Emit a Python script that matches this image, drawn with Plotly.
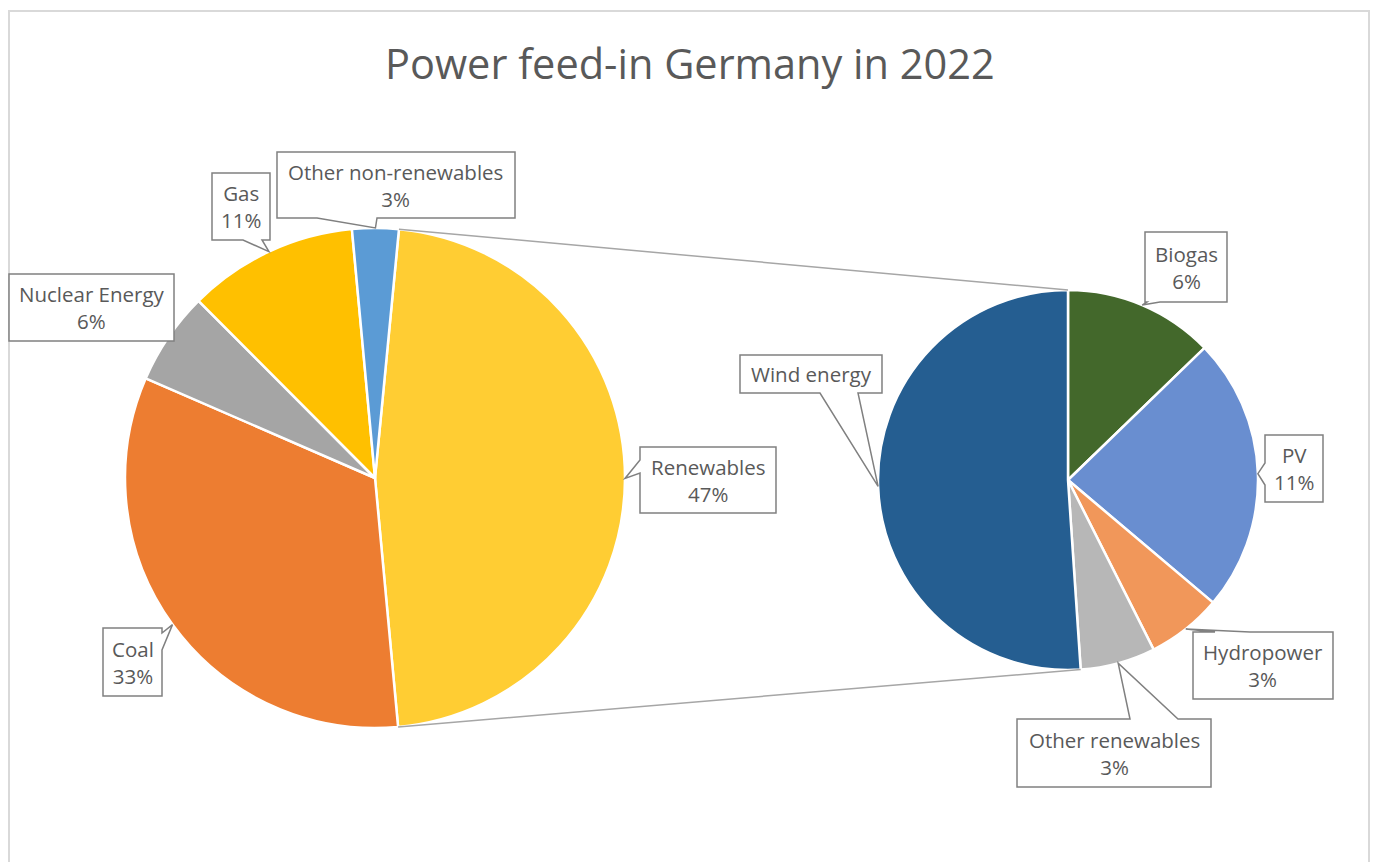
import math
import plotly.graph_objects as go

W, H = 1375, 862

# Power feed-in by source, percent of the total
main_labels = ["Renewables", "Coal", "Nuclear Energy", "Gas", "Other non-renewables"]
main_values = [47, 33, 6, 11, 3]
main_colors = ["#FFCD33", "#ED7D31", "#A5A5A5", "#FFC000", "#5B9BD5"]

# Split of the renewables share, percent of the total
sub_labels = ["Biogas", "PV", "Hydropower", "Other renewables", "Wind energy"]
sub_values = [6, 11, 3, 3, 24]
sub_colors = ["#43682B", "#698ED0", "#F1975A", "#B7B7B7", "#255E91"]
label_only = {"Wind energy"}

# Pie placement in pixels (centre, radius, start angle clockwise from 12 o'clock)
LEFT = dict(cx=375, cy=478, r=250, rotation=5.5)
RIGHT = dict(cx=1068, cy=480, r=190, rotation=0)

# Callout boxes (x0, y0, x1, y1) and the side/base span of their pointer
main_boxes = {
    "Renewables": ((640, 447, 776, 513), ("left", 460, 473)),
    "Coal": ((103, 628, 162, 696), ("right", 633, 650)),
    "Nuclear Energy": ((9, 274, 174, 341), None),
    "Gas": ((212, 173, 270, 240), ("bottom", 243, 262)),
    "Other non-renewables": ((277, 152, 515, 218), ("bottom", 317, 377)),
}
sub_boxes = {
    "Wind energy": ((740, 355, 882, 393), ("bottom", 820, 858)),
    "Biogas": ((1145, 232, 1227, 302), ("bottom", 1147, 1160)),
    "PV": ((1265, 435, 1323, 502), ("left", 463, 485)),
    "Hydropower": ((1193, 632, 1333, 699), ("top", 1215, 1250)),
    "Other renewables": ((1017, 719, 1211, 787), ("top", 1130, 1178)),
}

TEXT = "#595959"
EDGE = "#808080"
FONT = "Open Sans"


def px(x):
    return x / W


def py(y):
    return 1 - y / H


def domain(p):
    return dict(x=[px(p["cx"] - p["r"]), px(p["cx"] + p["r"])],
                y=[py(p["cy"] + p["r"]), py(p["cy"] - p["r"])])


def slice_angles(values, rotation):
    total = sum(values)
    out, a = [], rotation
    for v in values:
        span = 360.0 * v / total
        out.append((a, a + span))
        a += span
    return out


def rim(p, ang):
    t = math.radians(ang)
    return p["cx"] + p["r"] * math.sin(t), p["cy"] - p["r"] * math.cos(t)


def callout_path(box, wedge, tip):
    x0, y0, x1, y1 = box
    tx, ty = tip
    if wedge is None:
        pts = [(x0, y0), (x1, y0), (x1, y1), (x0, y1)]
    else:
        side, a, b = wedge
        if side == "bottom":
            pts = [(x0, y0), (x1, y0), (x1, y1), (b, y1), (tx, ty), (a, y1), (x0, y1)]
        elif side == "top":
            pts = [(x0, y0), (a, y0), (tx, ty), (b, y0), (x1, y0), (x1, y1), (x0, y1)]
        elif side == "left":
            pts = [(x0, y0), (x1, y0), (x1, y1), (x0, y1), (x0, b), (tx, ty), (x0, a)]
        else:
            pts = [(x0, y0), (x1, y0), (x1, a), (tx, ty), (x1, b), (x1, y1), (x0, y1)]
    return "M" + " L".join(f"{px(x):.5f},{py(y):.5f}" for x, y in pts) + " Z"


fig = go.Figure()

fig.add_trace(go.Pie(
    labels=main_labels, values=main_values, sort=False, direction="clockwise",
    rotation=LEFT["rotation"], domain=domain(LEFT), textinfo="none",
    marker=dict(colors=main_colors, line=dict(color="white", width=2.5)),
    showlegend=False,
))
fig.add_trace(go.Pie(
    labels=sub_labels, values=sub_values, sort=False, direction="clockwise",
    rotation=RIGHT["rotation"], domain=domain(RIGHT), textinfo="none",
    marker=dict(colors=sub_colors, line=dict(color="white", width=2.5)),
    showlegend=False,
))

shapes = []
annotations = []

# Chart frame
shapes.append(dict(type="rect", xref="paper", yref="paper",
                   x0=px(9), x1=px(1369), y0=py(11), y1=py(900),
                   line=dict(color="#D9D9D9", width=2), fillcolor="rgba(0,0,0,0)",
                   layer="below"))

# Connector lines between the renewables slice and the breakdown pie
main_ang = slice_angles(main_values, LEFT["rotation"])
sub_ang = slice_angles(sub_values, RIGHT["rotation"])
ren = main_ang[main_labels.index("Renewables")]
wind = sub_ang[sub_labels.index("Wind energy")]
for la, ra in ((ren[0], wind[1]), (ren[1], wind[0])):
    (ax, ay), (bx, by) = rim(LEFT, la), rim(RIGHT, ra)
    shapes.append(dict(type="line", xref="paper", yref="paper",
                       x0=px(ax), y0=py(ay), x1=px(bx), y1=py(by),
                       line=dict(color="#A6A6A6", width=1.5)))


def add_callouts(labels, values, angles, pie, boxes):
    for lab, val, (a0, a1) in zip(labels, values, angles):
        box, wedge = boxes[lab]
        tip = rim(pie, (a0 + a1) / 2)
        shapes.append(dict(type="path", xref="paper", yref="paper",
                           path=callout_path(box, wedge, tip),
                           fillcolor="white", line=dict(color=EDGE, width=1.5)))
        text = lab if lab in label_only else f"{lab}<br>{val}%"
        annotations.append(dict(x=px((box[0] + box[2]) / 2), y=py((box[1] + box[3]) / 2),
                                xref="paper", yref="paper", text=text, showarrow=False,
                                xanchor="center", yanchor="middle", align="center",
                                font=dict(family=FONT, size=20.5, color=TEXT)))


add_callouts(main_labels, main_values, main_ang, LEFT, main_boxes)
add_callouts(sub_labels, sub_values, sub_ang, RIGHT, sub_boxes)

annotations.append(dict(x=px(689.5), y=py(63), xref="paper", yref="paper",
                        text="Power feed-in Germany in 2022", showarrow=False,
                        xanchor="center", yanchor="middle",
                        font=dict(family=FONT, size=41.5, color=TEXT)))

fig.update_layout(
    width=W, height=H, margin=dict(l=0, r=0, t=0, b=0),
    paper_bgcolor="white", plot_bgcolor="white",
    shapes=shapes, annotations=annotations,
)

fig.write_html("out.html")
